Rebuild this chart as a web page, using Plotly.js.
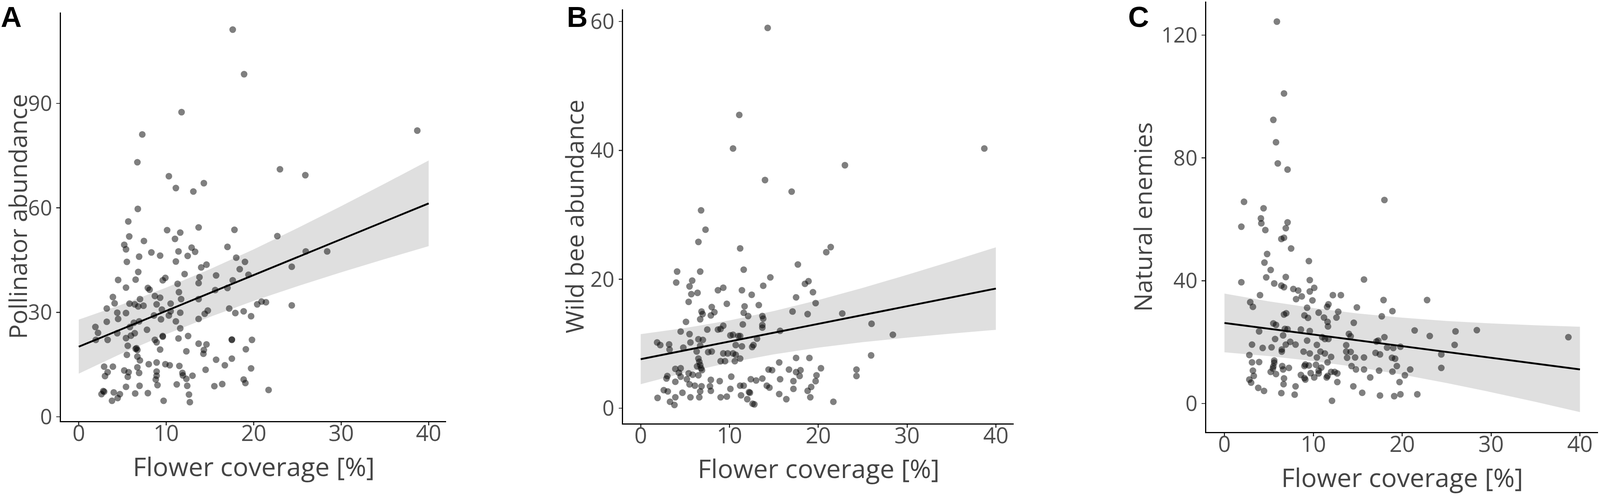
<!DOCTYPE html>
<html>
<head>
<meta charset="utf-8">
<script src="https://cdn.plot.ly/plotly-3.0.1.min.js"></script>
<style>html,body{margin:0;padding:0;background:#fff;overflow:hidden;}</style>
</head>
<body>
<div id="chart"></div>
<script>
// ---------- Panel A: Pollinator abundance ----------
const xA = [17.6,18.9,11.75,7.26,38.7,6.7,23.0,25.9,10.3,14.3,11.1,13.1,6.75,5.66,13.7,17.8,10.1,11.6,5.77,22.7,
11.0,7.45,5.2,17.0,12.9,5.4,13.3,28.4,25.95,11.4,8.3,9.3,12.45,6.9,18.0,11.1,5.5,19.0,14.6,14.0,
24.35,18.4,6.8,12.1,19.4,15.7,13.8,9.9,4.5,6.5,9.6,17.6,13.7,11.3,7.9,17.0,5.4,8.1,15.6,11.45,
8.7,3.9,9.3,13.7,11.7,7.0,4.1,20.9,21.4,5.8,20.4,6.4,10.5,7.4,8.9,6.8,24.35,3.2,17.2,9.5,
10.5,14.75,18.85,4.4,5.4,11.6,14.4,17.9,8.6,10.3,19.7,4.5,9.4,13.7,3.2,11.1,6.9,6.3,1.9,5.85,
11.6,2.2,4.4,6.4,7.8,5.96,12.5,9.6,9.6,5.4,8.7,1.95,3.3,11.4,17.5,17.5,19.8,8.9,5.6,6.6,
6.7,6.5,13.7,14.6,9.3,19.1,12.3,14.3,14.25,5.5,6.7,6.99,17.5,15.7,8.9,9.9,8.0,10.4,16.7,2.9,
3.9,11.5,6.7,19.7,14.5,5.2,3.3,8.9,5.7,6.9,11.85,3.0,5.6,11.9,8.9,13.0,12.3,8.8,18.85,19.05,
11.2,9.0,12.4,16.4,15.5,6.95,5.4,21.7,2.9,2.8,4.0,7.9,6.45,2.6,4.7,12.6,4.45,3.8,9.7,12.7];
const yA = [111.2,98.4,87.5,81.1,82.2,73.1,71.1,69.4,69.1,67.1,65.7,64.7,59.7,56.1,54.4,53.7,53.6,52.9,51.8,51.9,
51.1,50.5,49.4,48.8,48.6,48.1,47.4,47.5,47.5,47.5,47.2,46.3,46.2,46.0,45.7,44.6,44.5,44.5,43.7,42.9,
43.1,42.4,41.6,41.0,40.8,40.6,40.1,39.9,39.3,39.4,39.2,39.2,38.4,38.2,37.0,37.0,37.1,36.5,36.4,35.8,
34.7,34.4,34.2,33.8,33.8,33.8,32.6,33.1,32.9,32.5,32.3,32.3,32.5,31.9,32.3,31.7,32.0,31.1,31.1,30.8,
30.3,30.5,30.3,29.9,29.8,29.9,29.6,29.8,29.1,29.1,28.9,28.1,28.0,28.1,27.3,27.4,27.4,27.0,25.8,25.8,
25.4,24.1,24.0,24.0,25.0,23.3,23.2,23.2,23.0,22.6,22.1,22.1,22.1,22.5,22.1,22.2,22.1,21.4,20.4,19.7,
19.2,19.5,21.0,20.8,19.3,19.4,18.8,19.2,18.1,17.8,17.3,16.2,16.7,16.4,15.6,15.1,15.1,14.8,14.8,14.4,
14.4,14.6,14.2,13.9,13.5,13.3,12.8,13.0,12.8,12.6,12.6,11.7,11.5,11.9,11.8,11.8,10.9,10.7,10.7,9.7,
9.3,9.1,8.9,9.4,8.8,8.9,8.6,7.7,7.2,7.4,7.0,6.8,6.7,6.5,6.5,6.4,5.4,4.6,4.6,4.2];
const ribX = [0,5,10,15,20,25,30,35,40];
const ribLoA = [12.4,18.3,23.7,28.7,33.3,37.5,41.5,45.3,49.0];
const ribHiA = [27.9,32.3,37.1,42.4,48.1,54.2,60.5,67.0,73.6];
const fitX = [0,40];
const fitA = [20.13,61.29];

// ---------- Panel B: Wild bee abundance ----------
const xB = [14.3,11.1,10.4,38.7,23.0,14.0,17.0,6.8,7.3,6.5,11.2,21.4,20.9,17.7,11.6,4.1,6.7,14.6,18.9,5.8,
4.0,18.5,13.8,5.5,9.3,8.7,11.4,19.4,6.4,5.7,12.5,17.5,5.4,19.7,9.7,13.3,11.7,8.0,6.85,8.3,
17.1,6.97,11.6,22.7,7.9,18.8,12.1,13.7,13.8,6.7,5.1,26.0,11.5,13.7,9.3,13.7,7.5,8.7,9.0,4.5,
15.7,28.4,5.5,10.1,10.4,11.0,11.2,13.1,6.5,7.0,1.85,5.6,3.2,2.2,6.7,10.7,12.7,11.4,4.8,12.55,
3.25,6.3,8.0,7.6,9.3,9.8,10.4,10.7,25.95,6.5,11.2,17.5,19.0,9.0,9.5,10.6,6.6,6.7,15.6,6.35,
6.8,3.9,4.5,14.4,14.8,16.7,20.3,24.3,6.9,17.5,18.0,4.3,5.4,5.85,6.5,3.0,4.5,17.9,24.3,19.8,
10.2,2.9,5.2,7.9,8.9,12.4,13.0,15.7,17.2,3.9,19.7,13.7,5.5,6.1,6.85,7.8,11.2,11.6,14.2,14.5,
19.2,2.6,3.05,4.7,6.7,7.9,10.1,12.2,12.3,17.2,18.8,15.6,1.9,3.9,5.6,6.6,9.0,9.7,11.3,12.0,
16.4,19.1,3.3,12.6,12.8,21.7,3.8];
const yB = [59.0,45.5,40.3,40.3,37.7,35.4,33.6,30.7,27.7,25.8,24.8,25.0,24.2,22.3,21.5,21.2,21.2,20.3,19.7,19.8,
19.5,19.3,19.0,18.9,18.7,18.3,18.3,18.0,17.9,17.7,17.6,17.2,16.5,16.3,16.2,16.0,15.8,15.7,15.0,14.9,
15.0,14.6,14.8,14.7,14.4,14.6,14.3,14.3,13.9,13.8,13.4,13.1,13.0,12.9,12.8,12.5,12.2,12.2,12.3,11.9,
12.0,11.4,11.5,11.3,11.4,11.2,11.2,10.8,10.7,10.6,10.2,10.2,9.9,9.8,9.7,9.8,9.8,9.6,9.4,9.5,
9.1,8.8,8.8,8.7,8.5,8.5,8.5,8.3,8.2,7.7,7.7,7.8,7.8,7.3,7.3,7.3,7.2,6.7,7.1,6.5,
6.2,6.1,6.2,6.0,5.9,6.0,6.2,6.0,5.9,5.6,5.9,5.5,5.4,5.2,5.1,5.0,4.9,5.0,5.0,5.1,
4.9,4.6,4.5,4.4,4.2,4.5,4.3,4.5,4.2,4.1,4.2,4.6,3.7,3.5,3.4,3.4,3.5,3.5,3.5,3.2,
3.3,2.8,2.6,2.4,2.6,2.7,3.0,2.5,2.4,3.0,2.7,2.2,1.6,1.7,1.7,1.7,1.7,1.8,2.0,1.4,
1.4,1.7,1.0,0.7,0.6,1.0,0.5];
const ribLoB = [3.73,5.52,7.07,8.36,9.40,10.25,10.95,11.58,12.16];
const ribHiB = [11.49,12.44,13.63,15.08,16.78,18.67,20.69,22.80,24.96];
const fitB = [7.61,18.56];

// ---------- Panel C: Natural enemies ----------
const xC = [5.9,6.7,5.5,5.8,6.0,7.1,18.0,2.2,4.4,4.1,7.1,4.15,1.9,6.9,4.6,6.7,6.4,7.5,4.8,9.5,
4.5,5.2,4.7,6.9,15.7,1.9,9.6,5.6,6.4,6.7,10.1,7.75,8.3,9.6,4.0,12.2,13.1,8.7,17.9,22.8,
8.06,9.9,2.9,3.2,11.7,11.55,9.3,14.9,12.8,18.9,10.6,6.95,6.7,9.0,17.7,11.2,9.4,12.6,11.6,14.55,
5.5,5.8,11.65,6.8,7.1,8.6,21.4,26.0,28.4,3.9,9.6,14.0,6.6,23.1,14.2,18.0,38.7,11.0,11.3,5.7,
11.7,9.3,7.4,17.1,17.3,3.1,8.0,10.4,13.7,25.9,6.9,18.3,19.0,19.8,4.3,5.3,6.45,10.8,13.7,8.9,
14.2,17.0,9.6,2.8,11.3,24.4,6.45,17.5,18.85,12.0,13.8,15.7,14.7,10.4,19.2,5.6,3.1,3.9,5.6,11.6,
10.3,9.1,9.5,6.5,14.3,19.4,5.5,10.9,9.0,24.4,7.25,5.45,20.9,6.6,14.8,15.7,3.2,10.6,12.0,12.4,
5.2,17.4,18.9,12.7,5.8,9.7,10.6,8.6,11.6,3.3,20.3,10.1,9.0,16.4,6.7,11.5,2.8,3.0,9.1,12.7,
19.7,6.65,8.0,14.5,3.8,4.45,6.4,7.9,15.5,17.5,19.1,19.8,21.7,12.1];
const yC = [124.4,101.0,92.4,85.1,78.2,76.2,66.3,65.7,63.6,60.3,59.0,58.7,57.6,57.1,56.5,54.0,53.6,50.5,48.7,46.4,
45.9,43.5,41.1,41.2,40.4,39.5,40.2,39.1,38.4,37.9,37.7,37.3,36.8,36.5,35.3,35.3,35.3,34.9,33.7,33.7,
34.0,33.6,33.0,31.5,32.3,31.5,31.2,31.3,29.9,30.1,29.6,29.4,29.0,28.7,28.4,28.0,27.9,28.0,26.6,26.3,
26.1,25.6,25.1,24.3,24.2,24.1,23.8,23.5,23.9,23.5,23.6,22.7,22.2,22.0,21.9,21.6,21.6,21.6,21.0,21.0,
21.0,20.5,20.1,20.2,20.5,19.2,19.2,19.1,19.0,19.1,19.2,18.2,18.1,18.5,18.1,18.3,17.6,16.9,16.9,16.9,
16.8,16.5,16.3,15.8,16.3,16.0,16.9,16.0,14.9,15.2,14.9,15.0,15.0,15.0,14.6,14.0,13.4,13.5,13.3,13.4,
12.6,12.7,12.4,12.2,12.2,12.2,12.1,11.7,12.2,11.6,11.6,11.4,11.1,11.1,11.1,11.1,10.7,10.7,10.3,10.3,
10.3,10.7,10.4,9.8,9.6,9.9,9.8,9.3,9.0,9.0,9.2,8.5,8.3,8.5,8.2,8.5,7.8,6.8,7.8,7.0,
7.0,6.3,5.6,5.6,5.1,4.1,3.4,2.9,3.5,2.6,2.4,3.0,3.0,0.9];
const ribLoC = [16.67,15.43,13.82,11.81,9.41,6.68,3.70,0.53,-2.79];
const ribHiC = [35.81,33.27,31.10,29.33,27.95,26.90,26.10,25.49,25.01];
const fitC = [26.24,11.11];

// ---------- tick labels ----------
const xTicks = [0,10,20,30,40];
const yTicksA = [0,30,60,90];
const yTicksB = [0,20,40,60];
const yTicksC = [0,40,80,120];

// reference frame 4550 x 1271; adapt to the actual viewport
const RW = 4550, RH = 1271;
const W = window.innerWidth || RW;
const H = window.innerHeight || RH;
const sx = W / RW, sy = H / RH;
const s = Math.sqrt(sx * sy);
const div = document.getElementById('chart');
div.style.width = W + 'px';
div.style.height = H + 'px';

const XTICKFONT = {family:'Open Sans, sans-serif', size:60*s, color:'#4d4d4d'};
const YTICKFONT = {family:'Open Sans, sans-serif', size:60*sx, color:'#4d4d4d'};
const XTITLEFONT = {family:'Open Sans, sans-serif', size:70*s, color:'#444444'};
const YTITLEFONT = {family:'Open Sans, sans-serif', size:70*sx, color:'#444444'};
const LETTERFONT = {family:'Liberation Sans, Arial, sans-serif', size:78*s, color:'#000', weight:700};

function ribbon(lo, hi, xa, ya){
  const xs = ribX.concat(ribX.slice().reverse());
  const ys = hi.concat(lo.slice().reverse());
  return {x:xs, y:ys, xaxis:xa, yaxis:ya, type:'scatter', mode:'lines', fill:'toself',
    fillcolor:'rgb(223,223,223)', line:{width:0, color:'rgba(0,0,0,0)'}, hoverinfo:'skip', showlegend:false};
}
function pts(x, y, xa, ya){
  return {x:x, y:y, xaxis:xa, yaxis:ya, type:'scatter', mode:'markers',
    marker:{size:18*s, color:'rgba(0,0,0,0.5)', line:{width:0}}, showlegend:false};
}
function fit(y, xa, ya){
  return {x:fitX, y:y, xaxis:xa, yaxis:ya, type:'scatter', mode:'lines',
    line:{color:'#000', width:5*s}, showlegend:false};
}

const data = [
  ribbon(ribLoA, ribHiA, 'x', 'y'), pts(xA, yA, 'x', 'y'), fit(fitA, 'x', 'y'),
  ribbon(ribLoB, ribHiB, 'x2', 'y2'), pts(xB, yB, 'x2', 'y2'), fit(fitB, 'x2', 'y2'),
  ribbon(ribLoC, ribHiC, 'x3', 'y3'), pts(xC, yC, 'x3', 'y3'), fit(fitC, 'x3', 'y3')
];

function axis(extra){
  return Object.assign({showline:true, linecolor:'#000', linewidth:3*s, ticks:'outside', ticklen:9*s,
    tickwidth:3*s, tickcolor:'#333', showgrid:false, zeroline:false, fixedrange:true}, extra);
}

const px = v => v / RW;
const py = v => 1 - v / RH;

function ann(text, x, y, font, extra){
  return Object.assign({text:text, x:px(x), y:py(y), xref:'paper', yref:'paper', showarrow:false,
    xanchor:'center', yanchor:'middle', font:font}, extra || {});
}

const XSTAND = -29*sy, YSTAND = 0;
const xa = {tickvals:xTicks, tickfont:XTICKFONT, ticklabelstandoff:XSTAND};
const ya = {tickfont:YTICKFONT, ticklabelstandoff:YSTAND};

const layout = {
  width:W, height:H, margin:{l:0, r:0, t:0, b:0, pad:0}, paper_bgcolor:'#fff', plot_bgcolor:'#fff',
  showlegend:false,
  xaxis:  axis(Object.assign({domain:[px(173), px(1269)], range:[-2.05, 42.01], anchor:'y'}, xa)),
  yaxis:  axis(Object.assign({domain:[py(1079), py(32)], range:[-1.23, 116.12], tickvals:yTicksA, anchor:'x'}, ya)),
  xaxis2: axis(Object.assign({domain:[px(1772), px(2883)], range:[-1.98, 42.02], anchor:'y2'}, xa)),
  yaxis2: axis(Object.assign({domain:[py(1085), py(24)], range:[-2.36, 61.88], tickvals:yTicksB, anchor:'x2'}, ya)),
  xaxis3: axis(Object.assign({domain:[px(3430), px(4544)], range:[-2.06, 42.02], anchor:'y3'}, xa)),
  yaxis3: axis(Object.assign({domain:[py(1107), py(4)], range:[-9.28, 130.93], tickvals:yTicksC, anchor:'x3'}, ya)),
  annotations: [
    ann('Flower coverage [%]', 721, 1194, XTITLEFONT),
    ann('Flower coverage [%]', 2327.5, 1199, XTITLEFONT),
    ann('Flower coverage [%]', 3987, 1222, XTITLEFONT),
    ann('Pollinator abundance', 49, 555, YTITLEFONT, {textangle:-90}),
    ann('Wild bee abundance', 1632, 555, YTITLEFONT, {textangle:-90}),
    ann('Natural enemies', 3248, 556, YTITLEFONT, {textangle:-90}),
    ann('A', 32, 0, LETTERFONT, {yanchor:'top'}),
    ann('B', 1641, 0, LETTERFONT, {yanchor:'top'}),
    ann('C', 3237.5, 0, LETTERFONT, {yanchor:'top'})
  ]
};

Plotly.newPlot('chart', data, layout, {staticPlot:true, displayModeBar:false});
</script>
</body>
</html>
